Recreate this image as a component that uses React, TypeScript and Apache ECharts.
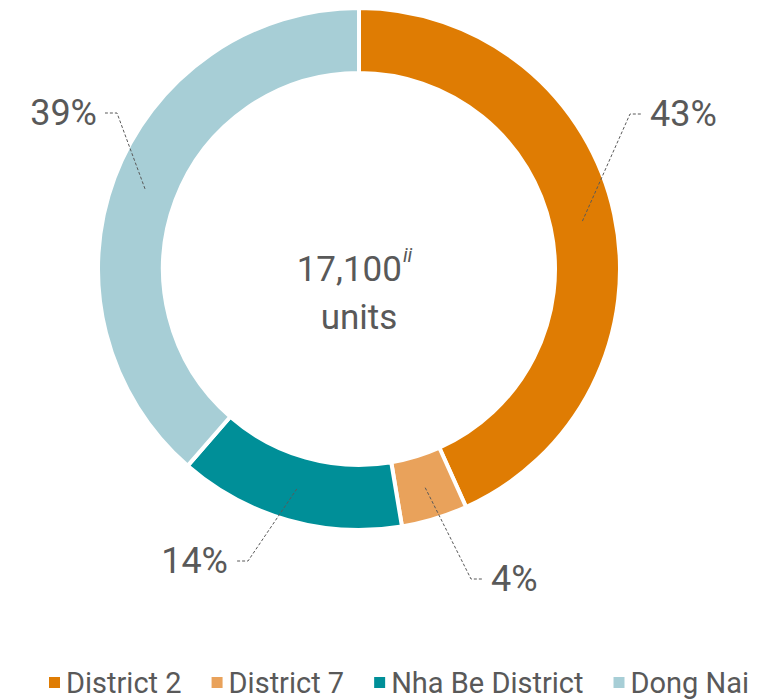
import React, { useEffect, useRef } from "react";
import * as echarts from "echarts";

const categories = ["District 2", "District 7", "Nha Be District", "Dong Nai"];
// estimated units per area (sum = 17,100), shown as rounded shares 43% / 4% / 14% / 39%
const units = [7400, 700, 2400, 6600];
const colors = ["#DF7C03", "#E9A25B", "#008F98", "#A7CED6"];
const totalLabel = "17,100";
const totalNote = "ii";
const totalUnit = "units";
// label elbow anchor (x, y) and side (+1 right, -1 left)
const labelElbows: [number, number, number][] = [
  [630, 114, 1],
  [471, 579, 1],
  [248, 561, -1],
  [117, 113, -1],
];

const CX = 359;
const CY = 269;
const R_IN = 198;
const R_OUT = 259;
const BORDER = 4;
const TEXT = "#595959";
const FONT = "Roboto, 'Noto Sans', sans-serif";

function leaderPoints(i: number): number[][] {
  const total = units.reduce((a, b) => a + b, 0);
  const rMid = (R_IN + R_OUT) / 2;
  let cum = 0;
  for (let k = 0; k < i; k++) cum += units[k];
  const a = ((cum + units[i] / 2) / total) * Math.PI * 2;
  const sx = CX + rMid * Math.sin(a);
  const sy = CY - rMid * Math.cos(a);
  const [ex, ey, dir] = labelElbows[i];
  return [
    [sx, sy],
    [ex, ey],
    [ex + dir * 12, ey],
  ];
}

export default function App() {
  const ref = useRef<HTMLDivElement>(null);
  useEffect(() => {
    document.body.style.margin = "0";
    if (!ref.current) return;
    const chart = echarts.init(ref.current, undefined, { renderer: "svg" });
    const radius = [R_IN - BORDER / 2, R_OUT + BORDER / 2];
    chart.setOption({
      animation: false,
      textStyle: { fontFamily: FONT },
      legend: {
        data: categories,
        left: 42,
        top: 663,
        icon: "rect",
        itemWidth: 13,
        itemHeight: 13,
        itemGap: 28,
        textStyle: { color: TEXT, fontSize: 29, fontFamily: FONT },
      },
      graphic: [
        {
          type: "text",
          x: CX,
          y: CY + 24,
          style: {
            text: `{n|${totalLabel}}{s|${totalNote}}\n{u|${totalUnit}}`,
            align: "center",
            verticalAlign: "middle",
            fill: TEXT,
            rich: {
              n: { fontSize: 35, lineHeight: 48, fill: TEXT, fontFamily: FONT },
              u: { fontSize: 35, lineHeight: 48, fill: TEXT, fontFamily: FONT },
              s: {
                fontSize: 20,
                fontStyle: "italic",
                fill: TEXT,
                fontFamily: FONT,
                verticalAlign: "top",
                lineHeight: 48,
                padding: [0, 9, 14, 1],
              },
            },
          },
        },
      ],
      series: [
        {
          type: "pie",
          center: [CX, CY],
          radius,
          startAngle: 90,
          clockwise: true,
          avoidLabelOverlap: false,
          itemStyle: { borderColor: "#ffffff", borderWidth: BORDER },
          label: {
            show: true,
            position: "outside",
            formatter: (p: any) => `${Math.round(p.percent)}%`,
            color: TEXT,
            fontSize: 36,
            fontFamily: FONT,
          },
          labelLine: { show: false },
          labelLayout: (params: any) => {
            const [ex, ey, dir] = labelElbows[params.dataIndex];
            return {
              x: ex + dir * 20,
              y: ey,
              align: dir > 0 ? "left" : "right",
              verticalAlign: "middle",
            };
          },
          emphasis: { disabled: true },
          data: categories.map((name, i) => ({
            name,
            value: units[i],
            itemStyle: { color: colors[i] },
          })),
        },
        {
          type: "custom",
          coordinateSystem: "none",
          silent: true,
          z: 10,
          data: units.map((v, i) => [i, v]),
          renderItem: (params: any) => ({
            type: "polyline",
            shape: { points: leaderPoints(params.dataIndex) },
            style: {
              stroke: TEXT,
              lineWidth: 1,
              fill: "none",
              lineDash: [3, 2],
            },
          }),
        },
      ],
    });
    return () => chart.dispose();
  }, []);
  return <div ref={ref} style={{ width: 760, height: 699 }} />;
}
